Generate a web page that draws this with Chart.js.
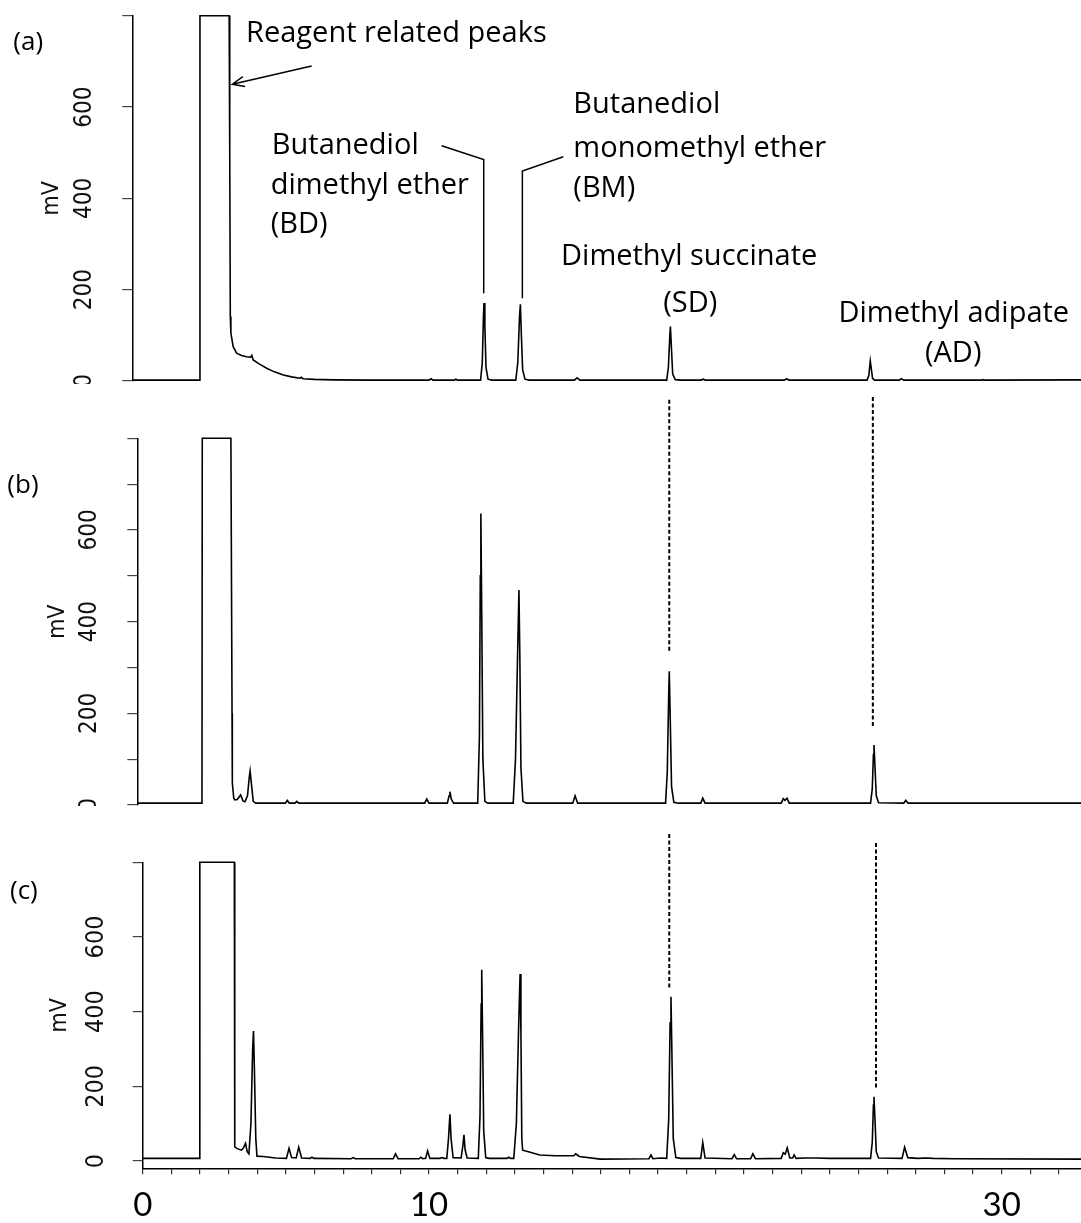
<!DOCTYPE html>
<html>
<head>
<meta charset="utf-8">
<script src="https://cdn.jsdelivr.net/npm/chart.js@4.4.1/dist/chart.umd.min.js"></script>
<style>
  body { margin: 0; background: #fff; }
  #wrap { position: relative; width: 1081px; height: 1223px; overflow: hidden; }
  canvas { position: absolute; left: 0; }
</style>
</head>
<body>
<div id="wrap">
  <canvas id="chartA" width="1081" height="384" style="top:0px"></canvas>
  <canvas id="chartB" width="1081" height="422" style="top:384px"></canvas>
  <canvas id="chartC" width="1081" height="417" style="top:806px"></canvas>
</div>
<script>
// [retention time (min), signal (mV)]
const traceA = [
  [-0.36, 2], [1.99, 2], [2.00, 800], [3.02, 800], [3.04, 500], [3.06, 141], [3.08, 105], [3.16, 75],
  [3.28, 61], [3.45, 56], [3.63, 53], [3.77, 52], [3.81, 56], [3.86, 46], [4.05, 38], [4.33, 28],
  [4.60, 20], [4.91, 13], [5.20, 9], [5.49, 6], [5.54, 8], [5.60, 5], [6.00, 3.5], [6.65, 2.5], [8.00, 2],
  [10.00, 2], [10.07, 5], [10.14, 2], [10.88, 2], [10.94, 4], [11.00, 2],
  [11.80, 2], [11.86, 40], [11.90, 140], [11.92, 171], [11.95, 120], [11.99, 30], [12.06, 4], [12.20, 2],
  [13.03, 2], [13.10, 40], [13.16, 140], [13.19, 168], [13.22, 110], [13.27, 25], [13.35, 4], [13.50, 2],
  [15.08, 2], [15.17, 7], [15.27, 2],
  [18.30, 2], [18.36, 30], [18.41, 100], [18.43, 119], [18.46, 80], [18.51, 15], [18.60, 3], [18.80, 2],
  [19.50, 2], [19.57, 4], [19.65, 2], [22.40, 2], [22.49, 4.5], [22.58, 2],
  [25.30, 2], [25.36, 12], [25.40, 38], [25.41, 44], [25.44, 30], [25.49, 6], [25.56, 2],
  [26.42, 2], [26.49, 5], [26.58, 2], [29.30, 2], [29.35, 3], [29.40, 2], [32.77, 2.5]
];

const traceB = [
  [-0.19, 4], [2.07, 4], [2.08, 800], [3.08, 800], [3.12, 200], [3.13, 48], [3.18, 15], [3.22, 11],
  [3.30, 12], [3.42, 22], [3.50, 9], [3.57, 7], [3.66, 20], [3.72, 60], [3.75, 74], [3.79, 50],
  [3.86, 8], [3.95, 4], [4.98, 4], [5.05, 10], [5.12, 4], [5.32, 4], [5.38, 8], [5.45, 4],
  [9.85, 4], [9.92, 13], [10.00, 4], [10.64, 4], [10.70, 20], [10.73, 29], [10.78, 12], [10.86, 4],
  [11.70, 4], [11.76, 150], [11.79, 500], [11.81, 636], [11.84, 420], [11.88, 100], [11.95, 8], [12.05, 4],
  [12.94, 4], [13.02, 100], [13.09, 320], [13.14, 469], [13.17, 330], [13.21, 80], [13.28, 8], [13.40, 4],
  [15.02, 4], [15.10, 20], [15.19, 4],
  [18.26, 4], [18.32, 70], [18.37, 240], [18.39, 292], [18.42, 200], [18.47, 40], [18.55, 6], [18.70, 4],
  [19.49, 4], [19.56, 15], [19.64, 4], [22.30, 4], [22.37, 14], [22.43, 10], [22.50, 15], [22.58, 4],
  [25.42, 4], [25.48, 35], [25.52, 110], [25.54, 131], [25.57, 90], [25.62, 20], [25.70, 5],
  [26.58, 4], [26.65, 10], [26.73, 4], [32.77, 4]
];

const traceC = [
  [0, 7], [1.97, 7], [1.99, 12], [2.00, 800], [3.20, 800], [3.21, 300], [3.22, 38], [3.30, 33],
  [3.45, 29], [3.52, 35], [3.59, 47], [3.65, 25], [3.71, 19], [3.78, 100], [3.84, 300], [3.87, 348],
  [3.90, 250], [3.95, 60], [3.99, 13], [4.20, 12], [4.65, 8],
  [5.02, 7], [5.11, 34], [5.20, 9], [5.36, 8], [5.45, 37], [5.55, 8], [5.85, 7], [5.91, 10], [5.98, 7],
  [7.28, 6], [7.35, 9], [7.42, 6], [8.75, 6], [8.83, 19], [8.92, 6],
  [9.65, 6], [9.71, 10], [9.78, 6], [9.88, 7], [9.95, 27], [10.03, 7], [10.38, 7], [10.45, 9], [10.52, 7],
  [10.62, 7], [10.68, 60], [10.73, 125], [10.77, 60], [10.84, 9],
  [11.12, 8], [11.18, 40], [11.22, 70], [11.26, 30], [11.33, 8],
  [11.72, 7], [11.78, 120], [11.82, 420], [11.84, 512], [11.87, 340], [11.91, 80], [11.98, 9], [12.10, 7],
  [12.72, 7], [12.78, 10], [12.85, 7],
  [12.96, 7], [13.05, 100], [13.13, 360], [13.18, 501], [13.21, 340], [13.24, 60], [13.27, 29],
  [13.50, 24], [13.87, 16], [14.40, 14], [15.05, 14], [15.12, 19], [15.25, 12], [15.98, 5],
  [17.68, 6], [17.75, 16], [17.82, 6], [18.09, 8],
  [18.30, 7], [18.37, 110], [18.42, 370], [18.45, 440], [18.48, 300], [18.53, 60], [18.62, 9], [18.80, 7],
  [19.49, 7], [19.56, 49], [19.64, 8], [20.58, 6], [20.66, 17], [20.74, 6], [21.23, 6], [21.31, 19], [21.40, 6],
  [22.30, 7], [22.37, 22], [22.44, 18], [22.51, 35], [22.60, 8], [22.70, 8], [22.75, 16], [22.82, 7],
  [23.15, 8], [23.51, 8], [24.00, 7],
  [25.42, 7], [25.48, 50], [25.52, 150], [25.54, 172], [25.57, 120], [25.62, 25], [25.70, 8],
  [26.52, 7], [26.61, 37], [26.72, 9], [27.07, 7], [27.34, 8], [27.61, 7], [28.33, 6], [32.77, 5]
];

const yTickValues = [0, 100, 200, 300, 400, 500, 600, 700, 800];
const yLabelValues = [0, 200, 400, 600];
const xTickLabels = [0, 10, 30];
const xMax = 32.77;

// peak names in panel (a): [text, time, mV] (left end of the baseline)
const labelsA = [
  ['Reagent related peaks', 3.61, 742],
  ['Butanediol', 4.51, 497],
  ['dimethyl ether', 4.47, 410],
  ['(BD)', 4.47, 324],
  ['Butanediol', 15.04, 586],
  ['monomethyl ether', 15.04, 491],
  ['(BM)', 15.04, 404],
  ['Dimethyl succinate', 14.61, 254],
  ['(SD)', 18.18, 152],
  ['Dimethyl adipate', 24.30, 130],
  ['(AD)', 27.32, 42]
];
const leadersA = [
  [[10.44, 515], [11.91, 485], [11.91, 192]],
  [[14.69, 491], [13.26, 460], [13.26, 181]]
];
const arrowA = [[5.90, 690], [3.13, 650]];

// dashed guides drawn in the lower panel: [time, from mV, to mV]
const guidesB = [[18.39, 884, 334], [25.50, 890, 167]];
const guidesC = [[18.39, 876, 463], [25.61, 852, 195]];

const TEXT_FONT = '"Open Sans", Lato, sans-serif';
const TICK_FONT = 'Lato, "Open Sans", sans-serif';
const AXIS_FONT = '"Liberation Sans Narrow", "DejaVu Sans Condensed", "Liberation Sans", sans-serif';

function notesPlugin(cfg) {
  return {
    id: 'notes',
    afterDatasetsDraw(chart) {
      const ctx = chart.ctx;
      const xs = chart.scales.x, ys = chart.scales.y, area = chart.chartArea;
      const px = t => xs.getPixelForValue(t);
      const py = v => ys.getPixelForValue(v);
      ctx.save();
      ctx.fillStyle = '#000';
      ctx.strokeStyle = '#000';

      ctx.font = '26px ' + TEXT_FONT;
      ctx.textBaseline = 'middle';
      ctx.textAlign = 'left';
      ctx.fillText(cfg.letter, area.left + cfg.letterPos[0], area.top + cfg.letterPos[1]);

      ctx.textBaseline = 'alphabetic';
      ctx.font = '29px ' + TEXT_FONT;
      (cfg.labels || []).forEach(l => ctx.fillText(l[0], px(l[1]), py(l[2])));

      ctx.lineWidth = 1.5;
      (cfg.leaders || []).forEach(pts => {
        ctx.beginPath();
        pts.forEach((p, i) => i ? ctx.lineTo(px(p[0]), py(p[1])) : ctx.moveTo(px(p[0]), py(p[1])));
        ctx.stroke();
      });

      if (cfg.arrow) {
        const x0 = px(cfg.arrow[0][0]), y0 = py(cfg.arrow[0][1]);
        const x1 = px(cfg.arrow[1][0]), y1 = py(cfg.arrow[1][1]);
        const ang = Math.atan2(y1 - y0, x1 - x0);
        ctx.beginPath();
        ctx.moveTo(x0, y0);
        ctx.lineTo(x1, y1);
        ctx.moveTo(x1 - 13 * Math.cos(ang - 0.4), y1 - 13 * Math.sin(ang - 0.4));
        ctx.lineTo(x1, y1);
        ctx.lineTo(x1 - 13 * Math.cos(ang + 0.4), y1 - 13 * Math.sin(ang + 0.4));
        ctx.stroke();
      }

      ctx.lineWidth = 2;
      ctx.setLineDash([4, 2.5]);
      (cfg.guides || []).forEach(g => {
        ctx.beginPath();
        ctx.moveTo(px(g[0]), py(g[1]));
        ctx.lineTo(px(g[0]), py(g[2]));
        ctx.stroke();
      });
      ctx.restore();
    }
  };
}

function makePanel(id, trace, cfg) {
  return new Chart(document.getElementById(id), {
    type: 'line',
    data: {
      datasets: [{
        data: trace.map(p => ({ x: p[0], y: p[1] })),
        borderColor: '#000',
        borderWidth: 1.6,
        pointRadius: 0,
        tension: 0,
        clip: 6
      }]
    },
    options: {
      responsive: false,
      animation: false,
      devicePixelRatio: 1,
      layout: { autoPadding: false, padding: { top: cfg.padTop, bottom: cfg.padBottom, left: 0, right: 0 } },
      plugins: { legend: { display: false }, tooltip: { enabled: false } },
      scales: {
        x: {
          type: 'linear',
          min: cfg.xMin,
          max: xMax,
          display: cfg.showX,
          afterFit: s => {
            s.height = cfg.xHeight || 0;
            s.paddingLeft = 0;
            s.paddingRight = 0;
          },
          grid: { drawOnChartArea: false, tickLength: 6, color: '#333', lineWidth: 1.2 },
          border: { display: true, color: '#000', width: 1.5 },
          ticks: {
            stepSize: 1,
            autoSkip: false,
            includeBounds: false,
            maxRotation: 0,
            padding: 11,
            color: '#000',
            font: { family: TICK_FONT, size: 33 },
            callback: v => xTickLabels.includes(v) ? String(v) : ''
          }
        },
        y: {
          min: cfg.yMin,
          max: 800,
          afterBuildTicks: s => { s.ticks = yTickValues.map(v => ({ value: v })); },
          afterFit: s => {
            // rotated labels: keep the plot edges where the reference has them
            s.width = cfg.axisLeft;
            s.paddingTop = 0;
            s.paddingBottom = 0;
          },
          grid: { drawOnChartArea: false, tickLength: 10, color: '#444', lineWidth: 1.2 },
          border: { display: true, color: '#000', width: 1.5 },
          ticks: {
            minRotation: 90,
            maxRotation: 90,
            crossAlign: 'center',
            padding: cfg.labelPad,
            color: '#111',
            font: { family: AXIS_FONT, size: cfg.labelSize },
            callback: v => yLabelValues.includes(v) ? String(v) : ''
          },
          title: {
            display: true,
            text: 'mV',
            color: '#111',
            font: { family: AXIS_FONT, size: 23 },
            padding: { top: cfg.titlePad, bottom: 0 }
          }
        }
      }
    },
    plugins: [notesPlugin(cfg.notes)]
  });
}

makePanel('chartA', traceA, {
  padTop: 15.7, padBottom: 3, xMin: -0.363, showX: false, yMin: 0,
  axisLeft: 132.3, labelPad: 17, labelSize: 24, titlePad: 38,
  notes: { letter: '(a)', letterPos: [-119, 27.3], labels: labelsA, leaders: leadersA, arrow: arrowA }
});

makePanel('chartB', traceB, {
  padTop: 54.3, padBottom: 1, xMin: -0.189, showX: false, yMin: 0,
  axisLeft: 137.3, labelPad: 17, labelSize: 24, titlePad: 44,
  notes: { letter: '(b)', letterPos: [-130, 47.7], guides: guidesB }
});

makePanel('chartC', traceC, {
  padTop: 56.3, padBottom: 0, xMin: 0, showX: true, xHeight: 54.7, yMin: -19.6,
  axisLeft: 142.7, labelPad: 15, labelSize: 25, titlePad: 46,
  notes: { letter: '(c)', letterPos: [-132.7, 29.4], guides: guidesC }
});
</script>
</body>
</html>
